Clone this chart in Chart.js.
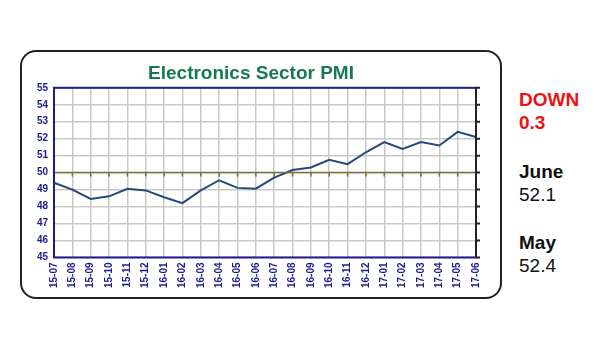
<!DOCTYPE html>
<html lang="en">
<head>
  <meta charset="UTF-8" />
  <title>Electronics Sector PMI</title>
  <script src="https://cdn.jsdelivr.net/npm/chart.js"></script>
  <style>
    body { margin: 0; width: 600px; height: 360px; background: #fff; position: relative; font-family: Arial, "Liberation Sans", sans-serif; overflow: hidden; }
    .box { position: absolute; left: 20px; top: 50px; width: 478px; height: 245px; border: 2px solid #222; border-radius: 16px; }
    .box canvas { position: absolute; left: 0; top: 0; }
    .side { position: absolute; left: 519px; font-size: 19px; line-height: 23px; }
    .red { color: #ee1111; font-weight: bold; top: 88px; }
    .june { top: 160px; color: #111; }
    .may { top: 231px; color: #111; }
    .side b { font-weight: bold; }
  </style>
</head>
<body>
  <div class="box">
    <canvas id="pmiChart" width="478" height="245"></canvas>
  </div>
  <div class="side red">DOWN<br>0.3</div>
  <div class="side june"><b>June</b><br>52.1</div>
  <div class="side may"><b>May</b><br>52.4</div>

  <script>
    const months = ['15-07','15-08','15-09','15-10','15-11','15-12','16-01','16-02','16-03','16-04','16-05','16-06',
                    '16-07','16-08','16-09','16-10','16-11','16-12','17-01','17-02','17-03','17-04','17-05','17-06'];
    const pmi = [49.4, 49.0, 48.45, 48.6, 49.05, 48.95, 48.55, 48.2, 48.95, 49.55, 49.1, 49.05,
                 49.7, 50.15, 50.3, 50.75, 50.5, 51.2, 51.8, 51.4, 51.8, 51.6, 52.4, 52.1];
    const threshold = 50;

    const navy = '#1c1c8f';

    // 50 line with little ticks, navy frame, right-side ticks
    const framePlugin = {
      id: 'frame',
      afterDatasetsDraw(chart) {
        const { ctx, chartArea: a, scales } = chart;
        const y50 = scales.y.getPixelForValue(threshold);
        ctx.save();
        ctx.strokeStyle = '#77753a';
        ctx.lineWidth = 1.5;
        ctx.beginPath();
        ctx.moveTo(a.left, y50); ctx.lineTo(a.right, y50);
        months.forEach((m, i) => {
          const x = scales.x.getPixelForValue(i);
          ctx.moveTo(x, y50); ctx.lineTo(x, y50 + 4);
        });
        ctx.stroke();

        ctx.strokeStyle = navy;
        ctx.lineWidth = 2;
        ctx.strokeRect(a.left, a.top, a.right - a.left, a.bottom - a.top);
        ctx.strokeStyle = '#222';
        ctx.beginPath();
        ctx.moveTo(a.right, a.top); ctx.lineTo(a.right, a.bottom);
        scales.y.ticks.forEach(t => {
          const y = scales.y.getPixelForValue(t.value);
          ctx.moveTo(a.right, y); ctx.lineTo(a.right + 4, y);
        });
        ctx.stroke();
        ctx.restore();
      }
    };

    new Chart(document.getElementById('pmiChart').getContext('2d'), {
      type: 'line',
      data: {
        labels: months,
        datasets: [{
          data: pmi,
          borderColor: '#24497a',
          borderWidth: 2,
          pointRadius: 0,
          tension: 0,
          fill: false
        }]
      },
      options: {
        responsive: false,
        animation: false,
        layout: { padding: { top: 4, right: 24, left: 4, bottom: 4 } },
        plugins: {
          legend: { display: false },
          tooltip: { enabled: false },
          title: {
            display: true,
            text: 'Electronics Sector PMI',
            color: '#157a4e',
            font: { family: 'Arial, "Liberation Sans", sans-serif', size: 19, weight: 'bold' },
            padding: { top: 6, bottom: 3 }
          }
        },
        scales: {
          x: {
            offset: false,
            grid: { color: '#c9c9c9', lineWidth: 1.5, drawTicks: false },
            border: { display: false },
            ticks: {
              color: navy, minRotation: 90, maxRotation: 90, autoSkip: false, padding: 5,
              font: { family: 'Arial, "Liberation Sans", sans-serif', size: 10, weight: 'bold' }
            }
          },
          y: {
            min: 45, max: 55,
            afterFit(s) { s.width = 28; },
            grid: { color: '#c9c9c9', lineWidth: 1.5, drawTicks: false },
            border: { display: false },
            ticks: {
              stepSize: 1, color: navy, padding: 6,
              font: { family: 'Arial, "Liberation Sans", sans-serif', size: 10, weight: 'bold' }
            }
          }
        }
      },
      plugins: [framePlugin]
    });
  </script>
</body>
</html>
